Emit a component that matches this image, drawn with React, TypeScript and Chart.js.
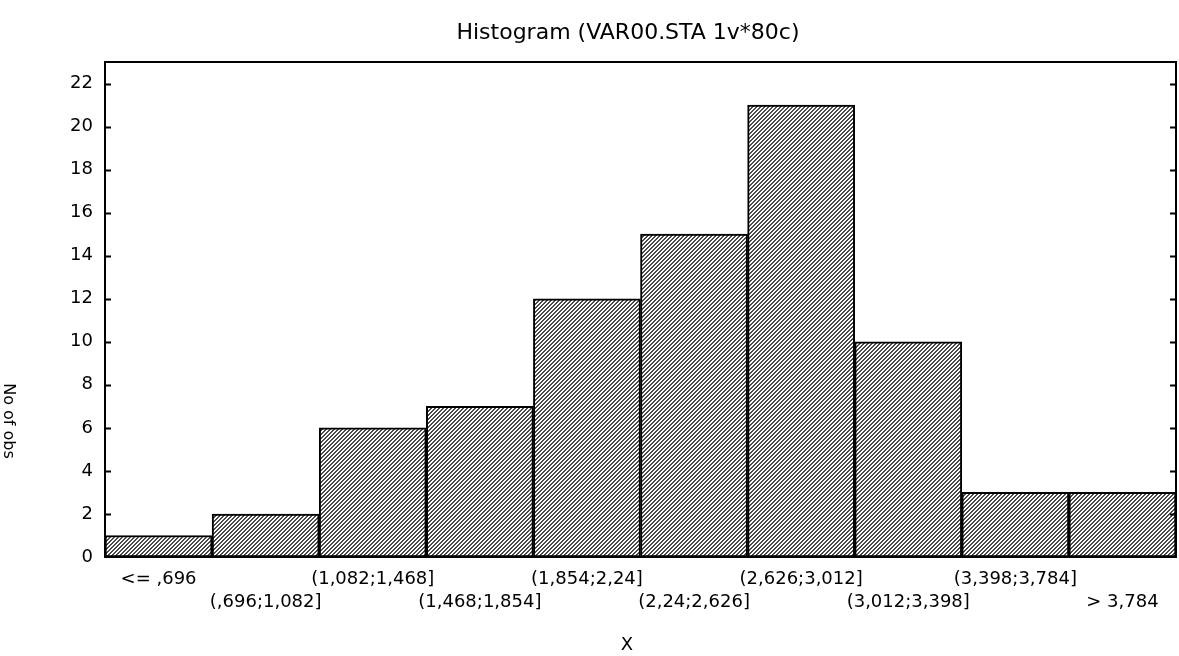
import React, { useEffect, useRef } from "react";
import { Chart, registerables } from "chart.js";

Chart.register(...registerables);

// Histogram bins and observed counts
const binLabels = [
  "<= ,696",
  "(,696;1,082]",
  "(1,082;1,468]",
  "(1,468;1,854]",
  "(1,854;2,24]",
  "(2,24;2,626]",
  "(2,626;3,012]",
  "(3,012;3,398]",
  "(3,398;3,784]",
  "> 3,784",
];
const counts = [1, 2, 6, 7, 12, 15, 21, 10, 3, 3];

const yMin = 0;
const yMax = 23;
const yStep = 2;

const titleText = "Histogram (VAR00.STA 1v*80c)";
const xTitle = "X";
const yTitle = "No of obs";

const FONT = "'DejaVu Sans', 'Liberation Sans', Arial, sans-serif";
const FONT_SIZE = 18;

// Fine "/" hatch fill used for the bars
function makeHatch(): CanvasPattern | string {
  const n = 4;
  const c = document.createElement("canvas");
  c.width = n;
  c.height = n;
  const g = c.getContext("2d");
  if (!g) return "#a0a0a0";
  g.fillStyle = "#ffffff";
  g.fillRect(0, 0, n, n);
  g.fillStyle = "#4a4a4a";
  for (let x = 0; x < n; x++) {
    for (let y = 0; y < n; y++) {
      const k = (x + y) % n;
      if (k === 2 || k === 3) g.fillRect(x, y, 1, 1);
    }
  }
  return g.createPattern(c, "repeat") || "#a0a0a0";
}

// Frame around the plot area, inward ticks on both sides, and the titles
const framePlugin = {
  id: "frameAndTitles",
  afterDatasetsDraw(chart: any) {
    const { ctx, chartArea } = chart;
    const { left, right, top, bottom } = chartArea;
    const yScale = chart.scales.y;
    ctx.save();
    ctx.strokeStyle = "#000";
    ctx.lineWidth = 2;
    ctx.strokeRect(left, top, right - left, bottom - top);
    ctx.beginPath();
    yScale.ticks.forEach((t: any) => {
      if (t.value === yMin) return;
      const y = Math.round(yScale.getPixelForValue(t.value)) + 0.5;
      ctx.moveTo(left, y);
      ctx.lineTo(left + 6, y);
      ctx.moveTo(right - 6, y);
      ctx.lineTo(right, y);
    });
    ctx.stroke();
    ctx.restore();
  },
  afterDraw(chart: any) {
    const { ctx } = chart;
    ctx.save();
    ctx.fillStyle = "#000";
    ctx.textAlign = "center";
    ctx.textBaseline = "middle";
    ctx.font = `22px ${FONT}`;
    ctx.fillText(titleText, 628, 33);
    ctx.font = `${FONT_SIZE}px ${FONT}`;
    ctx.fillText(xTitle, 627, 645);
    ctx.font = `16px ${FONT}`;
    ctx.translate(8, 421);
    ctx.rotate(Math.PI / 2);
    ctx.fillText(yTitle, 0, 0);
    ctx.restore();
  },
};

export default function App() {
  const canvasRef = useRef<HTMLCanvasElement | null>(null);

  useEffect(() => {
    const canvas = canvasRef.current;
    if (!canvas) return;
    const hatch = makeHatch();
    // alternate bin labels between two rows
    const labels = binLabels.map((l, i) => (i % 2 === 0 ? [l, ""] : ["", l]));
    const chart = new Chart(canvas, {
      type: "bar",
      data: {
        labels,
        datasets: [
          {
            data: counts,
            backgroundColor: hatch as any,
            borderColor: "#000",
            borderWidth: 2,
            borderSkipped: false,
            categoryPercentage: 1,
            barPercentage: 1,
          },
        ],
      },
      plugins: [framePlugin],
      options: {
        responsive: false,
        animation: false,
        layout: { padding: { left: 0, right: 3, top: 62, bottom: 0 } },
        plugins: {
          legend: { display: false },
          title: { display: false },
          tooltip: { enabled: false },
        },
        scales: {
          x: {
            grid: { display: false, drawTicks: false },
            border: { display: false },
            ticks: {
              autoSkip: false,
              maxRotation: 0,
              minRotation: 0,
              padding: 11,
              color: "#000",
              font: { family: FONT, size: FONT_SIZE, lineHeight: 23 / 18 },
            },
            afterFit(scale: any) {
              scale.height = 99;
            },
          },
          y: {
            min: yMin,
            max: yMax,
            grid: { display: false, drawTicks: false },
            border: { display: false },
            ticks: {
              stepSize: yStep,
              includeBounds: false,
              padding: 12,
              color: "#000",
              font: { family: FONT, size: FONT_SIZE },
            },
            afterFit(scale: any) {
              scale.width = 105;
            },
          },
        },
      },
    });
    return () => chart.destroy();
  }, []);

  return (
    <div style={{ position: "fixed", left: 0, top: 0, width: 1179, height: 656, background: "#fff" }}>
      <canvas ref={canvasRef} width={1179} height={656} style={{ display: "block" }} />
    </div>
  );
}
